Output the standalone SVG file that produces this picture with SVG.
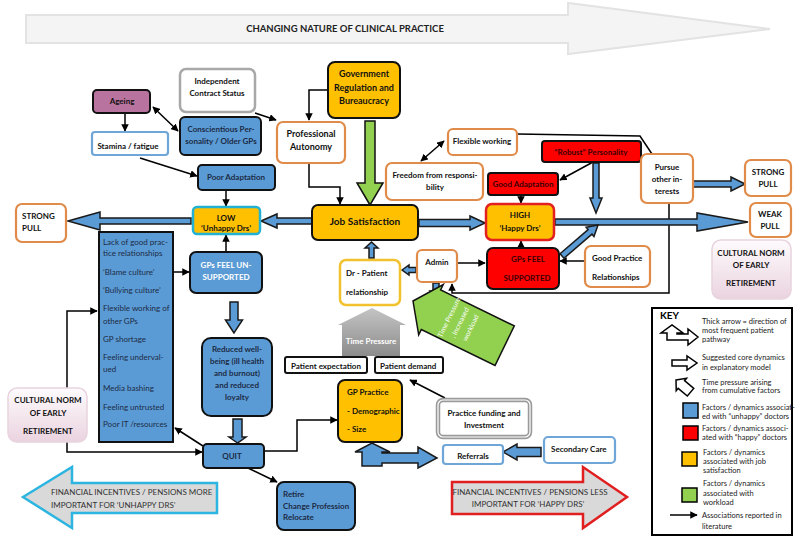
<svg xmlns="http://www.w3.org/2000/svg" width="800" height="540" viewBox="0 0 800 540">
<defs>
<style>
text{font-family:Lato,"Liberation Sans",sans-serif;font-size:8px;fill:#111}
.b{font-weight:bold}
.c{text-anchor:middle}
.n{fill:#1c2b45}
.w{fill:#fff}
.blue{fill:#5b9bd5;stroke:#111;stroke-width:2}
.yel{fill:#ffc000;stroke:#111;stroke-width:2}
.red{fill:#ff0000;stroke:#111;stroke-width:2}
.orw{fill:#fff;stroke:#e08b4a;stroke-width:2.2}
.blw{fill:#fff;stroke:#6fa6d8;stroke-width:2.2}
.pk{fill:url(#pink);stroke:#e8d3de;stroke-width:1.5}
.ln{fill:none;stroke:#000;stroke-width:1.5;marker-end:url(#ah)}
.ln2{fill:none;stroke:#000;stroke-width:1.5;marker-end:url(#ah);marker-start:url(#ah)}
.ba{fill:#5b9bd5;stroke:#1a1a1a;stroke-width:1.5}
.ko{fill:#fff;stroke:#000;stroke-width:1.5}
.k text{font-size:7.5px;fill:#222}
</style>
<marker id="ah" viewBox="0 0 10 10" refX="9" refY="5" markerWidth="5" markerHeight="5" orient="auto-start-reverse"><path d="M0,0L10,5L0,10z" fill="#000"/></marker>
<linearGradient id="pink" x1="0" y1="0" x2="0" y2="1"><stop offset="0" stop-color="#fefbfd"/><stop offset="1" stop-color="#ead3df"/></linearGradient>
<linearGradient id="grey" x1="0" y1="0" x2="0" y2="1"><stop offset="0" stop-color="#c4c4c4"/><stop offset="1" stop-color="#8c8c8c"/></linearGradient>
</defs>
<rect width="800" height="540" fill="#fff"/>

<g id="title">
<polygon points="26,15 568,15 568,3 770,29 568,54 568,43 26,43" fill="#f4f4f4" stroke="#e3e3e3" stroke-width="2"/>
<text x="345" y="32" class="b c" style="font-size:9.5px;fill:#222">CHANGING NATURE OF CLINICAL PRACTICE</text>
</g>

<g id="connectors">
<line class="ln2" x1="153" y1="107" x2="178" y2="131"/>
<line class="ln" x1="125" y1="114" x2="125" y2="131"/>
<line class="ln" x1="140" y1="158" x2="197" y2="176"/>
<line class="ln" x1="255" y1="113" x2="276" y2="120"/>
<polyline class="ln" points="328,90 309,90 309,120"/>
<polyline class="ln" points="309,163 309,187 340,187 340,204"/>
<line class="ln" x1="226" y1="190" x2="226" y2="206"/>
<line class="ln" x1="226" y1="252" x2="226" y2="235"/>
<line class="ln" x1="173" y1="272" x2="189" y2="272"/>
<polyline class="ln" points="67,388 67,311 97,311"/>
<polyline class="ln" points="67,442 67,452 202,452"/>
<line class="ln" x1="203" y1="446" x2="175" y2="428"/>
<polyline class="ln" points="264,451 297,451 297,420 337,420"/>
<line class="ln" x1="248" y1="468" x2="277" y2="482"/>
<line class="ln" x1="445" y1="398" x2="410" y2="380"/>
<line class="ln" x1="458" y1="263" x2="485" y2="263"/>
<line class="ln" x1="585" y1="261" x2="560" y2="261"/>
<line class="ln" x1="521" y1="248" x2="521" y2="241"/>
<line class="ln" x1="521" y1="195" x2="521" y2="203"/>
<line class="ln" x1="593" y1="162" x2="560" y2="180"/>
<line class="ln2" x1="444" y1="141" x2="421" y2="161"/>
<polyline points="517,134 640,136 652,154" fill="none" stroke="#000" stroke-width="1.5"/>
<polyline class="ln" points="669,203 669,293 452,293 452,284"/>
<polygon class="ba" points="68,221 100,212 100,218 191,218 191,224 100,224 100,230"/>
<polygon class="ba" points="261,221 277,214 277,218 312,218 312,224 277,224 277,228"/>
<polygon class="ba" points="485,223 470,216 470,219.5 419,219.5 419,226.5 470,226.5 470,230"/>
<polygon class="ba" points="748,222 697,213 697,219 555,219 555,225 697,225 697,231"/>
<polygon class="ba" points="745,184 731,177 731,181 693,181 693,187 731,187 731,191"/>
<polygon class="ba" points="596,213 590,198 593,198 593,163 599,163 599,198 602,198"/>
<polygon class="ba" transform="translate(562,256) rotate(-40.7)" points="0,-3 37,-3 37,-6 47.5,0 37,6 37,3 0,3"/>
<polygon class="ba" points="503,452 517,444 517,447.5 541,447.5 541,456.5 517,456.5 517,460"/>
<polygon class="ba" points="402,270 409,265 409,267.5 416,267.5 416,272.5 409,272.5 409,275"/>
<polygon class="ba" points="436,298 430,291 433,291 433,283 439,283 439,291 442,291"/>
<polygon class="ba" points="371.5,242 365,248 369,248 369,258 374,258 374,248 378,248"/>
<polygon class="ba" points="234,333 225.5,320 230,320 230,302 238,302 238,320 242.5,320"/>
<polygon class="ba" points="237.5,443 229,437 233,437 233,419 242,419 242,437 246,437"/>
<polygon points="370,205 357,183 365,183 365,121 375,121 375,183 383,183" fill="#92d050" stroke="#111" stroke-width="1.5"/>
</g>

<g id="time-pressure-grey">
<polygon points="372,308 338,325 342,325 342,356 400,356 400,325 406,325" fill="url(#grey)"/>
<text x="371" y="344" class="b c w">Time Pressure</text>
</g>

<g id="time-pressure-green" transform="translate(413,301) rotate(26)">
<polygon points="0,0 20,-28 20,-22 102,-22 102,22 20,22 20,28" fill="#92d050" stroke="#111" stroke-width="1.5"/>
<text transform="translate(42,-1) rotate(-90)" class="c w" style="font-size:7px">Time Pressure</text>
<text transform="translate(54,-1) rotate(-90)" class="c w" style="font-size:7px">, Increased</text>
<text transform="translate(66,-1) rotate(-90)" class="c w" style="font-size:7px">workload</text>
</g>

<g id="pathway">
<polygon points="362,466 362,452 355,452 372,443 390,452 382,452 382,453 418,453 418,447 437,458 418,468 418,463 382,463 382,466" fill="#5b9bd5" stroke="#1a1a1a" stroke-width="1.5"/>
</g>

<g id="ageing"><rect x="93" y="90" width="57" height="23" rx="4" fill="#b9739f" stroke="#111" stroke-width="2"/><text x="122" y="104" class="b c">Ageing</text></g>
<g id="stamina"><rect x="92" y="132" width="76" height="23" rx="3" class="blw"/><text x="128" y="149" class="b c">Stamina / fatigue</text></g>
<g id="independent"><rect x="180" y="69" width="75" height="43" rx="6" fill="#fff" stroke="#a8a8a8" stroke-width="2.5"/><text x="217" y="84" class="b c">Independent</text><text x="217" y="96" class="b c">Contract Status</text></g>
<g id="conscientious"><rect x="180" y="117" width="81" height="38" rx="5" class="blue"/><text x="221" y="132" class="b c n">Conscientious Per-</text><text x="221" y="144" class="b c n">sonality / Older GPs</text></g>
<g id="autonomy"><rect x="277" y="122" width="68" height="41" rx="6" class="orw"/><text x="311" y="137" class="b c" style="font-size:9px">Professional</text><text x="311" y="150" class="b c" style="font-size:9px">Autonomy</text></g>
<g id="government"><rect x="328" y="62" width="72" height="56" rx="7" class="yel"/><text x="364" y="77" class="b c" style="font-size:9px">Government</text><text x="364" y="91" class="b c" style="font-size:9px">Regulation and</text><text x="364" y="104" class="b c" style="font-size:9px">Bureaucracy</text></g>
<g id="poor-adaptation"><rect x="198" y="165" width="77" height="25" rx="4" class="blue"/><text x="236" y="180" class="b c n">Poor Adaptation</text></g>
<g id="low"><rect x="193" y="207" width="67" height="27" rx="4" fill="#ffc000" stroke="#22b1d4" stroke-width="2.5"/><text x="226" y="221" class="b c">LOW</text><text x="226" y="231" class="b c">‘Unhappy Drs’</text></g>
<g id="job-satisfaction"><rect x="312" y="205" width="106" height="35" rx="6" class="yel"/><text x="365" y="225" class="b c" style="font-size:10px">Job Satisfaction</text></g>
<g id="high"><rect x="486" y="204" width="68" height="36" rx="6" fill="#ffc000" stroke="#e32020" stroke-width="2.5"/><text x="520" y="218" class="b c">HIGH</text><text x="520" y="231" class="b c">‘Happy Drs’</text></g>
<g id="unsupported"><rect x="190" y="252" width="72" height="41" rx="6" class="blue"/><text x="226" y="268" class="b c w">GPs FEEL UN-</text><text x="226" y="280" class="b c w">SUPPORTED</text></g>
<g id="reduced"><rect x="202" y="338" width="70" height="78" rx="9" class="blue"/><text x="237" y="352" class="b c n">Reduced well-</text><text x="237" y="364" class="b c n">being (ill health</text><text x="237" y="376" class="b c n">and burnout)</text><text x="237" y="388" class="b c n">and reduced</text><text x="237" y="400" class="b c n">loyalty</text></g>
<g id="quit"><rect x="203" y="444" width="61" height="24" rx="4" class="blue"/><text x="232" y="459" class="b c n">QUIT</text></g>
<g id="retire"><rect x="277" y="482" width="78" height="48" rx="7" class="blue"/><text x="283" y="497" class="b n">Retire</text><text x="283" y="509" class="b n">Change Profession</text><text x="283" y="520" class="b n">Relocate</text></g>
<g id="strong-pull-left"><rect x="16" y="204" width="50" height="38" rx="6" class="orw"/><text x="22" y="219" class="b">STRONG</text><text x="22" y="231" class="b">PULL</text></g>
<g id="cultural-left"><rect x="8" y="388" width="79" height="54" rx="9" class="pk"/><text x="48" y="403" class="b c">CULTURAL NORM</text><text x="48" y="416" class="b c">OF EARLY</text><text x="48" y="434" class="b c">RETIREMENT</text></g>
<g id="factors-list"><rect x="99" y="232" width="74" height="210" class="blue"/>
<text x="103" y="245" class="n">Lack of good prac-</text><text x="103" y="256" class="n">tice relationships</text><text x="103" y="275" class="n">‘Blame culture’</text><text x="103" y="293" class="n">‘Bullying culture’</text><text x="103" y="311" class="n">Flexible working of</text><text x="103" y="324" class="n">other GPs</text><text x="103" y="342" class="n">GP shortage</text><text x="103" y="360" class="n">Feeling underval-</text><text x="103" y="372" class="n">ued</text><text x="103" y="391" class="n">Media bashing</text><text x="103" y="410" class="n">Feeling untrusted</text><text x="103" y="427" class="n">Poor IT /resources</text></g>
<g id="dr-patient"><rect x="340" y="260" width="60" height="45" rx="6" fill="#fff" stroke="#f2c12e" stroke-width="2.5"/><text x="346" y="276" class="b">Dr - Patient</text><text x="346" y="295" class="b">relationship</text></g>
<g id="patient-expectation"><rect x="285" y="357" width="82" height="16" rx="2" fill="#fff" stroke="#111" stroke-width="2"/><text x="291" y="369" class="b">Patient expectation</text></g>
<g id="patient-demand"><rect x="375" y="357" width="68" height="16" rx="2" fill="#fff" stroke="#111" stroke-width="2"/><text x="380" y="369" class="b">Patient demand</text></g>
<g id="gp-practice"><rect x="338" y="380" width="64" height="62" rx="7" class="yel"/><text x="347" y="395" class="b">GP Practice</text><text x="347" y="414" class="b">- Demographic</text><text x="347" y="432" class="b">- Size</text></g>
<g id="funding"><rect x="438" y="400" width="92" height="37" rx="5" fill="#fff" stroke="#9a9a9a" stroke-width="4.5"/><rect x="438" y="400" width="92" height="37" rx="5" fill="none" stroke="#fff" stroke-width="1.2"/><text x="484" y="416" class="b c">Practice funding and</text><text x="484" y="428" class="b c">Investment</text></g>
<g id="referrals"><rect x="443" y="445" width="60" height="19" rx="3" class="blw"/><text x="473" y="459" class="b c">Referrals</text></g>
<g id="secondary-care"><rect x="544" y="437" width="71" height="26" rx="4" class="blw"/><text x="551" y="452" class="b">Secondary Care</text></g>
<g id="admin"><rect x="417" y="250" width="40" height="32" rx="5" class="orw"/><text x="437" y="265" class="b c">Admin</text></g>
<g id="supported"><rect x="487" y="248" width="72" height="41" rx="6" class="red"/><text x="528" y="262" class="b c" style="fill:#3a0000">GPs FEEL</text><text x="527" y="281" class="b c" style="fill:#3a0000">SUPPORTED</text></g>
<g id="good-practice"><rect x="585" y="246" width="65" height="41" rx="6" class="orw"/><text x="592" y="261" class="b">Good Practice</text><text x="592" y="280" class="b">Relationships</text></g>
<g id="good-adaptation"><rect x="488" y="173" width="70" height="22" rx="3" class="red"/><text x="523" y="187" class="b c" style="fill:#3a0000">Good Adaptation</text></g>
<g id="freedom"><rect x="386" y="163" width="97" height="37" rx="6" class="orw"/><text x="435" y="178" class="b c">Freedom from responsi-</text><text x="435" y="190" class="b c">bility</text></g>
<g id="flexible"><rect x="448" y="129" width="69" height="26" rx="5" class="orw"/><text x="482" y="144" class="b c">Flexible working</text></g>
<g id="robust"><rect x="542" y="141" width="99" height="21" rx="3" class="red"/><text x="591" y="155" class="b c" style="fill:#3a0000">“Robust” Personality</text></g>
<g id="pursue"><rect x="641" y="154" width="52" height="49" rx="6" class="orw"/><text x="667" y="170" class="b c">Pursue</text><text x="667" y="182" class="b c">other in-</text><text x="667" y="194" class="b c">terests</text></g>
<g id="strong-pull-right"><rect x="745" y="160" width="46" height="36" rx="6" class="orw"/><text x="768" y="175" class="b c">STRONG</text><text x="768" y="187" class="b c">PULL</text></g>
<g id="weak-pull"><rect x="750" y="203" width="41" height="34" rx="6" class="orw"/><text x="770" y="217" class="b c">WEAK</text><text x="770" y="229" class="b c">PULL</text></g>
<g id="cultural-right"><rect x="712" y="240" width="79" height="59" rx="9" class="pk"/><text x="751" y="256" class="b c">CULTURAL NORM</text><text x="751" y="268" class="b c">OF EARLY</text><text x="751" y="286" class="b c">RETIREMENT</text></g>

<g id="financial-more"><polygon points="23,497 72,467 72,483 217,483 217,513 72,513 72,528" fill="#d9d9d9" stroke="#2bb5e0" stroke-width="2.5"/><text x="51" y="495" style="fill:#333">FINANCIAL INCENTIVES / PENSIONS MORE</text><text x="51" y="508" style="fill:#333">IMPORTANT FOR ‘UNHAPPY  DRS’</text></g>
<g id="financial-less"><polygon points="452,482 583,482 583,467 627,497 583,528 583,514 452,514" fill="#d9d9d9" stroke="#e02020" stroke-width="2.5"/><text x="530" y="495" class="c" style="fill:#333">FINANCIAL INCENTIVES / PENSIONS LESS</text><text x="528" y="507" class="c" style="fill:#333">IMPORTANT FOR ‘HAPPY DRS’</text></g>

<g id="key" class="k">
<rect x="652" y="308" width="140" height="227" fill="#fff" stroke="#000" stroke-width="2"/>
<text x="660" y="319" class="b" style="font-size:10px;fill:#000">KEY</text>
<polygon class="ko" points="667,340 667,333 661,333 672,325 683,333 677,333 677,334 688,334 688,329 698,337 688,345 688,340"/>
<text x="702" y="324">Thick arrow = direction of</text><text x="702" y="333">most frequent patient</text><text x="702" y="342">pathway</text>
<polygon class="ko" points="672,360 687,360 687,356 697,363 687,370 687,366 672,366"/>
<text x="702" y="360">Suggested core dynamics</text><text x="702" y="370">in  explanatory model</text>
<polygon class="ko" transform="translate(676,380) rotate(40)" points="0,0 7,-8 7,-5 19,-5 19,5 7,5 7,8"/>
<text x="702" y="385">Time pressure arising</text><text x="702" y="393">from cumulative factors</text>
<rect x="683" y="403" width="15" height="15" fill="#5b9bd5" stroke="#000" stroke-width="1.5"/>
<text x="702" y="410">Factors / dynamics associat-</text><text x="702" y="419">ed with “unhappy” doctors</text>
<rect x="683" y="426" width="15" height="14" fill="#ff0000" stroke="#000" stroke-width="1.5"/>
<text x="702" y="431">Factors / dynamics associ-</text><text x="702" y="440">ated with “happy” doctors</text>
<rect x="682" y="452" width="15" height="14" fill="#ffc000" stroke="#000" stroke-width="1.5"/>
<text x="703" y="455">Factors / dynamics</text><text x="703" y="464">associated with job</text><text x="703" y="473">satisfaction</text>
<rect x="682" y="488" width="15" height="14" fill="#92d050" stroke="#000" stroke-width="1.5"/>
<text x="703" y="486">Factors / dynamics</text><text x="703" y="496">associated with</text><text x="703" y="505">workload</text>
<line class="ln" x1="670" y1="515" x2="697" y2="515"/>
<text x="702" y="518">Associations reported in</text><text x="702" y="529">literature</text>
</g>
</svg>
